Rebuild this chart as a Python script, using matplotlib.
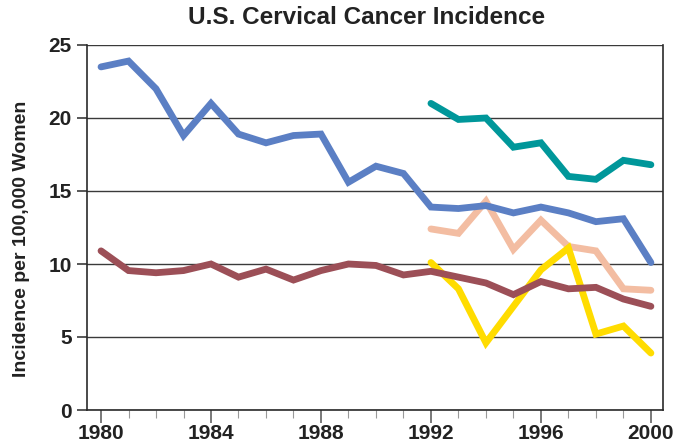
import numpy as np
import matplotlib.pyplot as plt
from matplotlib.ticker import MultipleLocator

years_all = list(range(1980, 2001))
years_late = list(range(1992, 2001))

# incidence per 100,000 women
blue = [23.5, 23.9, 22.0, 18.8, 21.0, 18.9, 18.3, 18.8, 18.9, 15.6, 16.7,
        16.2, 13.9, 13.8, 14.0, 13.5, 13.9, 13.5, 12.9, 13.1, 10.1]
maroon = [10.9, 9.55, 9.4, 9.55, 10.0, 9.1, 9.65, 8.9, 9.55, 10.0, 9.9,
          9.25, 9.5, 9.1, 8.7, 7.9, 8.8, 8.3, 8.4, 7.6, 7.1]
teal = [21.0, 19.9, 20.0, 18.0, 18.3, 16.0, 15.8, 17.1, 16.8]
peach = [12.4, 12.1, 14.3, 11.0, 13.0, 11.2, 10.9, 8.3, 8.2]
yellow = [10.1, 8.3, 4.6, 7.1, 9.6, 11.1, 5.2, 5.75, 3.9]

plt.rcParams['font.family'] = ['Liberation Sans', 'DejaVu Sans']

fig = plt.figure(figsize=(6.85, 4.48), dpi=100)
ax = fig.add_axes([87 / 685, 1 - 410 / 448, (663 - 87) / 685, (410 - 45) / 448])

lw = 4.9
ax.plot(years_all, blue, color='#5b7fc4', lw=lw, solid_capstyle='round', solid_joinstyle='miter', zorder=3)
ax.plot(years_all, maroon, color='#9c4f57', lw=lw, solid_capstyle='round', solid_joinstyle='miter', zorder=3)
ax.plot(years_late, teal, color='#00979a', lw=lw, solid_capstyle='round', solid_joinstyle='miter', zorder=3)
ax.plot(years_late, peach, color='#f3bda2', lw=lw, solid_capstyle='round', solid_joinstyle='miter', zorder=2.5)
ax.plot(years_late, yellow, color='#ffdc00', lw=lw, solid_capstyle='round', solid_joinstyle='miter', zorder=2.8)

ax.set_xlim(1979.49, 2000.44)
ax.set_ylim(0, 25)
ax.yaxis.set_major_locator(MultipleLocator(5))
ax.xaxis.set_major_locator(MultipleLocator(4))
ax.xaxis.set_minor_locator(MultipleLocator(1))
ax.grid(axis='y', color='#3a3a3a', lw=1.0)
ax.set_axisbelow(True)

for s in ['left', 'right', 'bottom']:
    ax.spines[s].set_color('#2a2a2a')
    ax.spines[s].set_linewidth(1.2)
ax.spines['top'].set_visible(False)

ax.tick_params(axis='y', length=7, width=1.1, color='#2a2a2a', pad=4,
               labelsize=15)
ax.tick_params(axis='x', which='major', length=9, width=1.1, color='#555555',
               pad=1, labelsize=15)
ax.tick_params(axis='x', which='minor', length=6, width=0.8, color='#999999')
for lab in ax.get_xticklabels() + ax.get_yticklabels():
    lab.set_fontweight('bold')
    lab.set_color('#222222')

ax.set_ylabel('Incidence per 100,000 Women', fontsize=14, fontweight='bold',
              color='#222222')
ax.yaxis.set_label_coords(-0.099, 0.47)

fig.text(367 / 685, 1 - 17 / 448, 'U.S. Cervical Cancer Incidence', ha='center',
         va='center', fontsize=17.5, fontweight='bold', color='#222222')

fig.savefig('out.png', dpi=100)
